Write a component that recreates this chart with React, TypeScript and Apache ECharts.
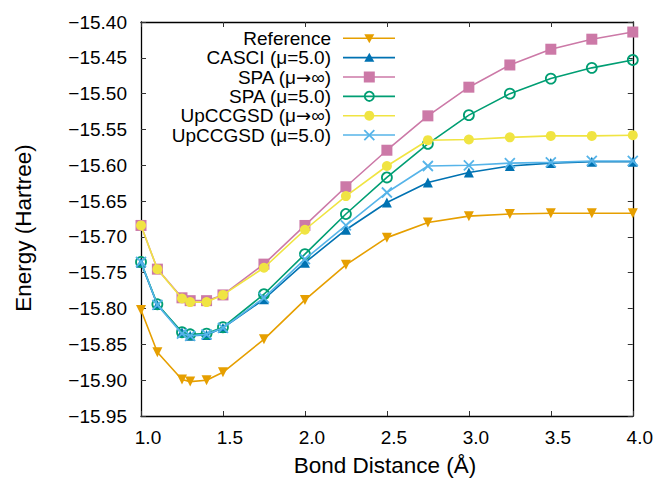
import React, { useEffect, useRef } from "react";
import * as echarts from "echarts";

const bondDistance = [1.0, 1.1, 1.25, 1.3, 1.4, 1.5, 1.75, 2.0, 2.25, 2.5, 2.75, 3.0, 3.25, 3.5, 3.75, 4.0];
const reference = [-15.802, -15.861, -15.899, -15.902, -15.900, -15.889, -15.843, -15.788, -15.739, -15.701, -15.680, -15.671, -15.668, -15.667, -15.667, -15.667];
const casci5 = [-15.736, -15.795, -15.833, -15.838, -15.837, -15.827, -15.787, -15.736, -15.690, -15.652, -15.624, -15.610, -15.601, -15.597, -15.595, -15.595];
const spaInf = [-15.684, -15.745, -15.785, -15.789, -15.789, -15.781, -15.738, -15.684, -15.630, -15.579, -15.531, -15.491, -15.460, -15.438, -15.424, -15.414];
const spa5 = [-15.735, -15.794, -15.833, -15.836, -15.835, -15.826, -15.780, -15.724, -15.668, -15.617, -15.570, -15.530, -15.500, -15.479, -15.464, -15.453];
const upInf = [-15.684, -15.745, -15.786, -15.791, -15.791, -15.781, -15.743, -15.690, -15.643, -15.601, -15.565, -15.564, -15.561, -15.559, -15.559, -15.558];
const up5 = [-15.735, -15.795, -15.835, -15.838, -15.836, -15.827, -15.785, -15.731, -15.684, -15.638, -15.601, -15.600, -15.597, -15.596, -15.594, -15.594];

const seriesNames = [
  "Reference",
  "CASCI (μ=5.0)",
  "SPA (μ→∞)",
  "SPA (μ=5.0)",
  "UpCCGSD (μ→∞)",
  "UpCCGSD (μ=5.0)",
];
const seriesValues = [reference, casci5, spaInf, spa5, upInf, up5];
const colors = ["#e69f00", "#0072b2", "#cc79a7", "#009e73", "#f0e442", "#56b4e9"];

const FONT = '"Liberation Sans", Arial, Helvetica, sans-serif';
const CROSS = "path://M0,0L10,10M10,0L0,10";

function richName(name: string) {
  // put the arrow in its own rich segment so it can use a font with a long arrow glyph
  return name
    .split("→")
    .map((part) => `{a|${part}}`)
    .join("{b|→}");
}

export default function App() {
  const ref = useRef<HTMLDivElement>(null);
  useEffect(() => {
    if (!ref.current) return;
    const chart = echarts.init(ref.current, null, { renderer: "svg" });

    const symbolCfg = [
      { symbol: "triangle", symbolSize: 10, symbolRotate: 180, fill: true },
      { symbol: "triangle", symbolSize: 10, symbolRotate: 0, fill: true },
      { symbol: "rect", symbolSize: 11, symbolRotate: 0, fill: true },
      { symbol: "circle", symbolSize: 10, symbolRotate: 0, fill: false },
      { symbol: "circle", symbolSize: 10, symbolRotate: 0, fill: true },
      { symbol: CROSS, symbolSize: 10, symbolRotate: 0, fill: false },
    ];

    const series = seriesValues.map((vals, i) => {
      const c = colors[i];
      const cfg = symbolCfg[i];
      return {
        type: "line",
        name: seriesNames[i],
        data: bondDistance.map((x, j) => [x, vals[j]]),
        symbol: cfg.symbol,
        symbolSize: cfg.symbolSize,
        symbolRotate: cfg.symbolRotate,
        showAllSymbol: true,
        lineStyle: { color: c, width: 1.6 },
        itemStyle: cfg.fill
          ? { color: c, borderWidth: 0 }
          : { color: "rgba(0,0,0,0)", borderColor: c, borderWidth: 1.8 },
        z: 2 + i,
      };
    });

    // legend graphics
    const rowY0 = 38.3;
    const rowStep = 19.35;
    const textRight = 331;
    const lx1 = 343;
    const lx2 = 395;
    const mx = 369.3;
    const legendEls: any[] = [];
    seriesNames.forEach((name, i) => {
      const y = rowY0 + i * rowStep;
      const c = colors[i];
      legendEls.push({
        type: "text",
        x: textRight,
        y: y,
        style: {
          text: richName(name),
          fill: "#000",
          fontSize: 19,
          fontFamily: FONT,
          align: "right",
          verticalAlign: "middle",
          rich: {
            a: { fontSize: 19, fontFamily: FONT, fill: "#000" },
            b: { fontSize: 18, fontFamily: '"DejaVu Sans", sans-serif', fill: "#000" },
          },
        },
      });
      legendEls.push({
        type: "line",
        shape: { x1: lx1, y1: y, x2: lx2, y2: y },
        style: { stroke: c, lineWidth: 1.6 },
      });
      if (i === 0) {
        legendEls.push({
          type: "polygon",
          shape: { points: [[mx - 5, y - 4], [mx + 5, y - 4], [mx, y + 5]] },
          style: { fill: c },
        });
      } else if (i === 1) {
        legendEls.push({
          type: "polygon",
          shape: { points: [[mx - 5, y + 4], [mx + 5, y + 4], [mx, y - 5]] },
          style: { fill: c },
        });
      } else if (i === 2) {
        legendEls.push({
          type: "rect",
          shape: { x: mx - 5.5, y: y - 5.5, width: 11, height: 11 },
          style: { fill: c },
        });
      } else if (i === 3) {
        legendEls.push({
          type: "circle",
          shape: { cx: mx, cy: y, r: 4.6 },
          style: { fill: "none", stroke: c, lineWidth: 1.8 },
        });
      } else if (i === 4) {
        legendEls.push({
          type: "circle",
          shape: { cx: mx, cy: y, r: 5 },
          style: { fill: c },
        });
      } else {
        legendEls.push({
          type: "line",
          shape: { x1: mx - 5, y1: y - 5, x2: mx + 5, y2: y + 5 },
          style: { stroke: c, lineWidth: 1.8 },
        });
        legendEls.push({
          type: "line",
          shape: { x1: mx + 5, y1: y - 5, x2: mx - 5, y2: y + 5 },
          style: { stroke: c, lineWidth: 1.8 },
        });
      }
    });

    const axisLine = { show: true, onZero: false, lineStyle: { color: "#000", width: 1.3 } };
    const tick = { show: true, inside: true, length: 5, lineStyle: { color: "#333", width: 1 } };
    const fmtY = (v: number) => v.toFixed(2).replace("-", "\u2212");

    const option: any = {
      animation: false,
      backgroundColor: "#fff",
      grid: { left: 141, right: 23, top: 22, bottom: 69, containLabel: false },
      xAxis: [
        {
          type: "value",
          position: "bottom",
          min: 1,
          max: 4,
          interval: 0.5,
          axisLine,
          axisTick: tick,
          splitLine: { show: false },
          axisLabel: {
            formatter: (v: number) => v.toFixed(1),
            color: "#000",
            fontSize: 19,
            fontFamily: FONT,
            margin: 12,
            padding: [0, 0, 0, 14],
          },
        },
        {
          type: "value",
          position: "top",
          min: 1,
          max: 4,
          interval: 0.5,
          axisLine,
          axisTick: tick,
          splitLine: { show: false },
          axisLabel: { show: false },
        },
      ],
      yAxis: [
        {
          type: "value",
          position: "left",
          min: -15.95,
          max: -15.4,
          interval: 0.05,
          axisLine,
          axisTick: tick,
          splitLine: { show: false },
          axisLabel: {
            formatter: fmtY,
            color: "#000",
            fontSize: 19,
            fontFamily: FONT,
            margin: 14,
          },
        },
        {
          type: "value",
          position: "right",
          min: -15.95,
          max: -15.4,
          interval: 0.05,
          axisLine,
          axisTick: tick,
          splitLine: { show: false },
          axisLabel: { show: false },
        },
      ],
      series,
      graphic: [
        ...legendEls,
        {
          type: "text",
          x: 23,
          y: 228,
          rotation: Math.PI / 2,
          style: {
            text: "Energy (Hartree)",
            fill: "#000",
            fontSize: 22.5,
            fontFamily: FONT,
            align: "center",
            verticalAlign: "middle",
          },
        },
        {
          type: "text",
          x: 385,
          y: 465,
          style: {
            text: "Bond Distance (Å)",
            fill: "#000",
            fontSize: 22.5,
            fontFamily: FONT,
            align: "center",
            verticalAlign: "middle",
          },
        },
      ],
    };
    chart.setOption(option);
    return () => chart.dispose();
  }, []);

  return (
    <div
      ref={ref}
      style={{ position: "fixed", left: 0, top: 0, width: 656, height: 485, background: "#fff" }}
    />
  );
}
